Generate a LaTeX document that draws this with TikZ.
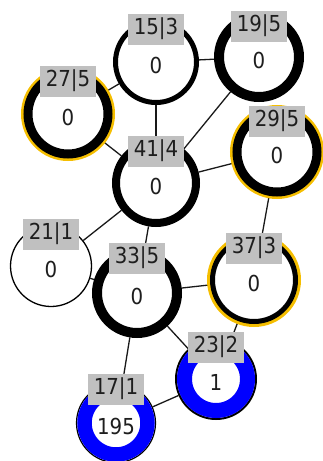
\documentclass[tikz,border=0pt]{standalone}
\usepackage{fontspec}
\newfontfamily\lblfont{DejaVu Sans Condensed}
\usetikzlibrary{backgrounds}
\definecolor{ringyellow}{RGB}{245,190,0}
\definecolor{boxgray}{RGB}{192,192,192}
\definecolor{ringblue}{RGB}{0,0,255}
\definecolor{txtc}{RGB}{30,30,30}
\definecolor{edgec}{RGB}{25,25,25}
\begin{document}
\begin{tikzpicture}[x=1pt,y=-1pt,
  vtx/.style={circle,inner sep=0pt,fill=white,draw=black},
  yel/.style={preaction={draw=ringyellow,line width=#1}},
  lbl/.style={fill=boxgray,text=txtc,font=\lblfont\fontsize{22}{24}\selectfont,
              inner sep=0pt,minimum width=56pt,minimum height=31pt},
  val/.style={text=txtc,font=\lblfont\fontsize{22}{24}\selectfont,inner sep=0pt},
  edge/.style={draw=edgec,line width=1.3pt},
  bluering/.style={draw=ringblue,line width=#1}]
\useasboundingbox (0,0) rectangle (323,461);
% vertices
\node[vtx,line width=5pt,minimum size=81pt] (n15) at (156,62) {};
\node[vtx,line width=10pt,minimum size=80pt] (n19) at (259,57) {};
\node[vtx,line width=9pt,minimum size=80pt,yel=14pt] (n27) at (68,114) {};
\node[vtx,line width=8pt,minimum size=80pt] (n41) at (156,183) {};
\node[vtx,line width=9pt,minimum size=80pt,yel=14pt] (n29) at (277,152) {};
\node[vtx,line width=1.3pt,minimum size=81pt] (n21) at (51,266) {};
\node[vtx,line width=10pt,minimum size=80pt] (n33) at (137,293) {};
\node[vtx,line width=5pt,minimum size=83pt,yel=11pt] (n37) at (254,280) {};
\node[vtx,line width=2pt,minimum size=80pt] (n23) at (216,379) {};
\node[vtx,line width=1.2pt,minimum size=79pt] (n17) at (116,423) {};
\draw[bluering=15pt] (n23.center) circle[radius=31.5pt];
\draw[bluering=14.5pt] (n17.center) circle[radius=31.5pt];
% edges
\begin{scope}[on background layer]
\draw[edge] (n15) -- (n19);
\draw[edge] (n15) -- (n27);
\draw[edge] (n15) -- (n41);
\draw[edge] (n19) -- (n41);
\draw[edge] (n27) -- (n41);
\draw[edge] (n41) -- (n29);
\draw[edge] (n41) -- (n21);
\draw[edge] (n41) -- (n33);
\draw[edge] (n29) -- (n37);
\draw[edge] (n21) -- (n33);
\draw[edge] (n33) -- (n37);
\draw[edge] (n33) -- (n23);
\draw[edge] (n33) -- (n17);
\draw[edge] (n17) -- (n23);
\draw[edge] (n37) -- (n23);
\end{scope}
% values
\node[val] (v15) at ([yshift=-3pt]n15.center) {0};
\node[val] (v19) at ([yshift=-3pt]n19.center) {0};
\node[val] (v27) at ([yshift=-3pt]n27.center) {0};
\node[val] (v41) at ([yshift=-3pt]n41.center) {0};
\node[val] (v29) at ([yshift=-3pt]n29.center) {0};
\node[val] (v21) at ([yshift=-3pt]n21.center) {0};
\node[val] (v33) at ([yshift=-3pt]n33.center) {0};
\node[val] (v37) at ([yshift=-3pt]n37.center) {0};
\node[val] (v23) at ([yshift=-3pt]n23.center) {1};
\node[val] (v17) at ([yshift=-3pt]n17.center) {195};
% labels
\node[lbl] (l15) at ([yshift=33pt]n15.center) {15|3};
\node[lbl] (l19) at ([yshift=31pt]n19.center) {19|5};
\node[lbl] (l27) at ([yshift=33pt]n27.center) {27|5};
\node[lbl] (l41) at ([yshift=32pt]n41.center) {41|4};
\node[lbl] (l29) at ([yshift=31pt]n29.center) {29|5};
\node[lbl] (l21) at ([yshift=32pt]n21.center) {21|1};
\node[lbl] (l33) at ([yshift=35pt]n33.center) {33|5};
\node[lbl] (l37) at ([yshift=32pt]n37.center) {37|3};
\node[lbl] (l23) at ([yshift=32pt]n23.center) {23|2};
\node[lbl] (l17) at ([yshift=34pt]n17.center) {17|1};
\end{tikzpicture}
\end{document}
